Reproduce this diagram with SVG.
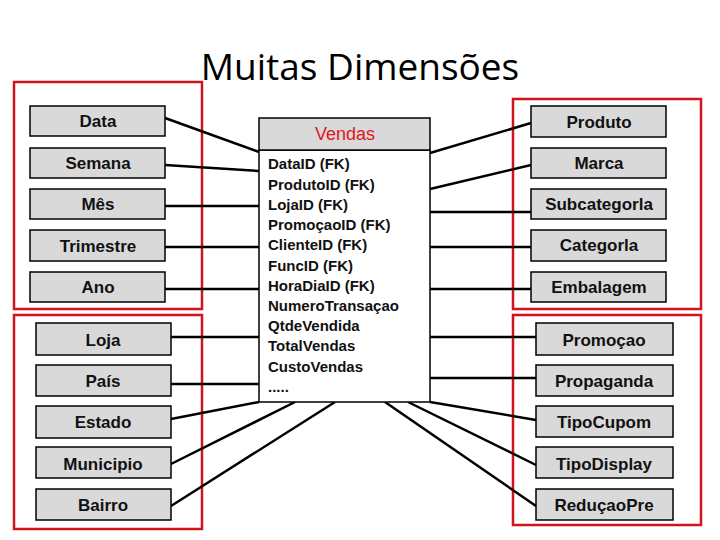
<svg xmlns="http://www.w3.org/2000/svg" width="720" height="540" viewBox="0 0 720 540">
<style>
.b{fill:#d9d9d9;stroke:#000;stroke-width:1.5}
.t{font-family:"Liberation Sans",Arial,sans-serif;font-weight:bold;font-size:17px;text-anchor:middle;fill:#111}
.f{font-family:"Liberation Sans",Arial,sans-serif;font-weight:bold;font-size:15px;fill:#111}
.r{fill:none;stroke:#d0141c;stroke-width:2.5}
#c line{stroke:#000;stroke-width:2.5}
</style>
<rect width="720" height="540" fill="#fff"/>
<text x="360" y="80" font-family="'Open Sans','Liberation Sans',sans-serif" font-size="37" text-anchor="middle" fill="#000">Muitas Dimensões</text>
<rect class="r" x="14" y="82" width="188" height="227"/>
<rect class="r" x="14" y="315" width="188" height="214"/>
<rect class="r" x="513" y="99" width="188" height="210"/>
<rect class="r" x="513" y="315" width="188" height="210"/>
<g id="c">
<line x1="165" y1="118" x2="259" y2="152"/>
<line x1="165" y1="165" x2="259" y2="171"/>
<line x1="165" y1="206" x2="259" y2="206"/>
<line x1="165" y1="247" x2="259" y2="247"/>
<line x1="165" y1="289" x2="259" y2="289"/>
<line x1="171" y1="337" x2="259" y2="337"/>
<line x1="171" y1="384" x2="259" y2="384"/>
<line x1="171" y1="419" x2="259" y2="402"/>
<line x1="171" y1="464" x2="295" y2="402"/>
<line x1="171" y1="506" x2="335" y2="402"/>
<line x1="531" y1="123" x2="430" y2="153"/>
<line x1="531" y1="165" x2="430" y2="189"/>
<line x1="531" y1="212" x2="430" y2="212"/>
<line x1="531" y1="247" x2="430" y2="247"/>
<line x1="531" y1="289" x2="430" y2="289"/>
<line x1="536" y1="337" x2="430" y2="337"/>
<line x1="536" y1="378" x2="430" y2="378"/>
<line x1="536" y1="420" x2="430" y2="402"/>
<line x1="536" y1="465" x2="408" y2="402"/>
<line x1="536" y1="506" x2="385" y2="402"/>
</g>
<g id="vendas">
<rect x="259" y="150" width="171" height="252" fill="#fff" stroke="#000" stroke-width="1.5"/>
<rect class="b" x="259" y="118" width="171" height="32"/>
<text class="t" x="345" y="140" fill="#e0161e" style="fill:#e0161e;font-weight:normal;font-size:18px">Vendas</text>
<text class="f" x="268" y="169">DataID (FK)</text>
<text class="f" x="268" y="190">ProdutoID (FK)</text>
<text class="f" x="268" y="210">LojaID (FK)</text>
<text class="f" x="268" y="230">PromoçaoID (FK)</text>
<text class="f" x="268" y="250">ClienteID (FK)</text>
<text class="f" x="268" y="271">FuncID (FK)</text>
<text class="f" x="268" y="291">HoraDiaID (FK)</text>
<text class="f" x="268" y="311">NumeroTransaçao</text>
<text class="f" x="268" y="331">QtdeVendida</text>
<text class="f" x="268" y="351">TotalVendas</text>
<text class="f" x="268" y="372">CustoVendas</text>
<text class="f" x="268" y="392">.....</text>
</g>
<g id="data"><rect class="b" x="30" y="106" width="135" height="30"/><text class="t" x="98" y="127">Data</text></g>
<g id="semana"><rect class="b" x="30" y="148" width="135" height="30"/><text class="t" x="98" y="169">Semana</text></g>
<g id="mes"><rect class="b" x="30" y="189" width="135" height="30"/><text class="t" x="98" y="210">Mês</text></g>
<g id="trimestre"><rect class="b" x="30" y="230" width="135" height="31"/><text class="t" x="98" y="252">Trimestre</text></g>
<g id="ano"><rect class="b" x="30" y="272" width="135" height="30"/><text class="t" x="98" y="293">Ano</text></g>
<g id="loja"><rect class="b" x="36" y="323" width="135" height="32"/><text class="t" x="103" y="346">Loja</text></g>
<g id="pais"><rect class="b" x="36" y="365" width="135" height="31"/><text class="t" x="103" y="387">País</text></g>
<g id="estado"><rect class="b" x="36" y="406" width="135" height="32"/><text class="t" x="103" y="428">Estado</text></g>
<g id="municipio"><rect class="b" x="36" y="447" width="135" height="31"/><text class="t" x="103" y="470">Municipio</text></g>
<g id="bairro"><rect class="b" x="36" y="489" width="135" height="31"/><text class="t" x="103" y="511">Bairro</text></g>
<g id="produto"><rect class="b" x="531" y="106" width="135" height="31"/><text class="t" x="599" y="128">Produto</text></g>
<g id="marca"><rect class="b" x="531" y="148" width="135" height="30"/><text class="t" x="599" y="169">Marca</text></g>
<g id="subcategoria"><rect class="b" x="531" y="189" width="135" height="30"/><text class="t" x="599" y="210">Subcategorla</text></g>
<g id="categoria"><rect class="b" x="531" y="230" width="135" height="31"/><text class="t" x="599" y="251">Categorla</text></g>
<g id="embalagem"><rect class="b" x="531" y="272" width="135" height="30"/><text class="t" x="599" y="293">Embalagem</text></g>
<g id="promocao"><rect class="b" x="536" y="323" width="137" height="32"/><text class="t" x="604" y="346">Promoçao</text></g>
<g id="propaganda"><rect class="b" x="536" y="365" width="137" height="31"/><text class="t" x="604" y="387">Propaganda</text></g>
<g id="tipocupom"><rect class="b" x="536" y="406" width="137" height="31"/><text class="t" x="604" y="428">TipoCupom</text></g>
<g id="tipodisplay"><rect class="b" x="536" y="447" width="137" height="31"/><text class="t" x="604" y="470">TipoDisplay</text></g>
<g id="reducaopre"><rect class="b" x="536" y="489" width="137" height="31"/><text class="t" x="604" y="511">ReduçaoPre</text></g>
</svg>
